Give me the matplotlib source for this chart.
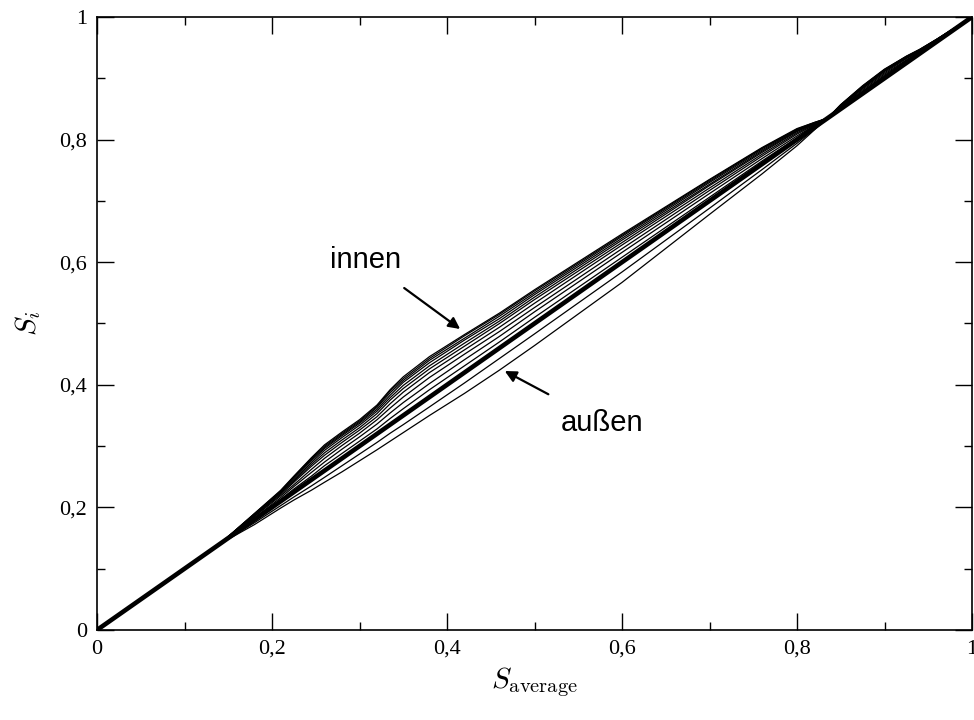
import matplotlib
matplotlib.use("Agg")
import matplotlib.pyplot as plt
import numpy as np
from matplotlib.ticker import MultipleLocator, FixedLocator

plt.rcParams['mathtext.fontset'] = 'cm'

# abscissa grid (S_average)
s_avg = [0, 0.14, 0.18, 0.21, 0.225, 0.245, 0.26, 0.28, 0.30, 0.32, 0.335, 0.35, 0.38,
         0.42, 0.46, 0.50, 0.60, 0.70, 0.76, 0.80, 0.82, 0.835, 0.85, 0.875, 0.90,
         0.925, 0.94, 0.96, 1.0]

# deviation S_i - S_average for each layer (innen -> außen)
dev_in1 = [0, 0, 0.010, 0.018, 0.026, 0.036, 0.042, 0.043, 0.043, 0.047, 0.057, 0.063, 0.066, 0.062, 0.057, 0.055, 0.046, 0.035, 0.027, 0.018, 0.008, 0, 0.007, 0.013, 0.015, 0.011, 0.007, 0.004, 0]
dev_in2 = [0, 0, 0.010, 0.017, 0.025, 0.035, 0.040, 0.041, 0.041, 0.045, 0.055, 0.060, 0.063, 0.060, 0.055, 0.053, 0.044, 0.034, 0.026, 0.017, 0.008, 0, 0.007, 0.012, 0.014, 0.011, 0.007, 0.004, 0]
dev_in3 = [0, 0, 0.009, 0.016, 0.024, 0.033, 0.038, 0.039, 0.039, 0.043, 0.052, 0.057, 0.060, 0.056, 0.052, 0.050, 0.042, 0.032, 0.025, 0.016, 0.007, 0, 0.006, 0.012, 0.014, 0.010, 0.006, 0.004, 0]
dev_in4 = [0, 0, 0.009, 0.015, 0.022, 0.031, 0.036, 0.037, 0.037, 0.040, 0.048, 0.054, 0.056, 0.053, 0.048, 0.047, 0.039, 0.030, 0.023, 0.015, 0.007, 0, 0.006, 0.011, 0.013, 0.009, 0.006, 0.003, 0]
dev_in5 = [0, 0, 0.008, 0.014, 0.020, 0.028, 0.033, 0.034, 0.034, 0.037, 0.044, 0.049, 0.051, 0.048, 0.044, 0.043, 0.036, 0.027, 0.021, 0.014, 0.006, 0, 0.005, 0.010, 0.012, 0.009, 0.005, 0.003, 0]
dev_in6 = [0, 0, 0.007, 0.013, 0.018, 0.025, 0.029, 0.030, 0.030, 0.033, 0.040, 0.044, 0.046, 0.043, 0.040, 0.039, 0.032, 0.025, 0.019, 0.013, 0.006, 0, 0.005, 0.009, 0.011, 0.008, 0.005, 0.003, 0]
dev_in7 = [0, 0, 0.006, 0.011, 0.016, 0.022, 0.025, 0.026, 0.026, 0.028, 0.034, 0.038, 0.040, 0.037, 0.034, 0.033, 0.028, 0.021, 0.016, 0.011, 0.005, 0, 0.004, 0.008, 0.009, 0.007, 0.004, 0.002, 0]
dev_in8 = [0, 0, 0.005, 0.009, 0.012, 0.017, 0.020, 0.021, 0.021, 0.023, 0.027, 0.030, 0.032, 0.030, 0.027, 0.026, 0.022, 0.017, 0.013, 0.009, 0.004, 0, 0.003, 0.006, 0.007, 0.005, 0.003, 0.002, 0]
dev_in9 = [0, 0, 0.003, 0.006, 0.009, 0.012, 0.014, 0.015, 0.015, 0.016, 0.019, 0.021, 0.022, 0.021, 0.019, 0.019, 0.016, 0.012, 0.009, 0.006, 0.003, 0, 0.002, 0.004, 0.005, 0.004, 0.002, 0.001, 0]
dev_in10 = [0, 0, 0.002, 0.003, 0.005, 0.006, 0.008, 0.008, 0.008, 0.008, 0.010, 0.011, 0.012, 0.011, 0.010, 0.010, 0.008, 0.006, 0.005, 0.003, 0.001, 0, 0.001, 0.002, 0.003, 0.002, 0.001, 0.001, 0]
dev_out1 = [0, 0, -0.005, -0.007, -0.008, -0.010, -0.011, -0.012, -0.013, -0.014, -0.014, -0.015, -0.016, -0.017, -0.017, -0.017, -0.016, -0.012, -0.009, -0.006, -0.003, 0, 0.001, 0.002, 0.002, 0.001, 0.001, 0, 0]
dev_out2 = [0, 0, -0.008, -0.011, -0.013, -0.017, -0.019, -0.022, -0.024, -0.026, -0.027, -0.028, -0.030, -0.034, -0.036, -0.036, -0.033, -0.022, -0.016, -0.010, -0.004, 0, 0, 0.001, 0.001, 0.001, 0, 0, 0]

layers = [dev_in1, dev_in2, dev_in3, dev_in4, dev_in5, dev_in6, dev_in7,
          dev_in8, dev_in9, dev_in10, dev_out1, dev_out2]

tick_vals = [0, 0.2, 0.4, 0.6, 0.8, 1.0]
tick_labels = ["0", "0,2", "0,4", "0,6", "0,8", "1"]

fig = plt.figure(figsize=(9.74, 7.2), dpi=100)
ax = fig.add_axes([97/974, 90/720, 875/974, 613/720])

x = np.array(s_avg)
for d in layers:
    ax.plot(x, x + np.array(d), color='black', lw=0.9, solid_joinstyle='round')
ax.plot([0, 1], [0, 1], color='black', lw=3.3, solid_capstyle='butt')

ax.set_xlim(0, 1)
ax.set_ylim(0, 1)
ax.xaxis.set_major_locator(FixedLocator(tick_vals))
ax.yaxis.set_major_locator(FixedLocator(tick_vals))
ax.set_xticklabels(tick_labels, fontfamily='Liberation Serif', fontsize=16)
ax.set_yticklabels(tick_labels, fontfamily='Liberation Serif', fontsize=16)
ax.xaxis.set_minor_locator(MultipleLocator(0.1))
ax.yaxis.set_minor_locator(MultipleLocator(0.1))
ax.tick_params(which='both', direction='in', top=True, right=True, width=1.0)
ax.tick_params(which='major', length=12, pad=7)
ax.tick_params(which='minor', length=6)
for sp in ax.spines.values():
    sp.set_linewidth(1.2)

ax.set_xlabel(r"$S_{\mathrm{average}}$", fontsize=21, labelpad=5)
ax.set_ylabel(r"$S_i$", fontsize=21, labelpad=12)

ax.annotate("innen", xy=(0.415, 0.491), xytext=(0.307, 0.604),
            fontsize=21, fontfamily='Liberation Sans', ha='center', va='center',
            arrowprops=dict(arrowstyle='-|>', color='black', lw=1.6,
                            mutation_scale=17, shrinkA=14, shrinkB=0))
ax.annotate("außen", xy=(0.466, 0.4225), xytext=(0.577, 0.338),
            fontsize=21, fontfamily='Liberation Sans', ha='center', va='center',
            arrowprops=dict(arrowstyle='-|>', color='black', lw=1.6,
                            mutation_scale=17, shrinkA=18, shrinkB=0))

fig.savefig("out.png", dpi=100)
